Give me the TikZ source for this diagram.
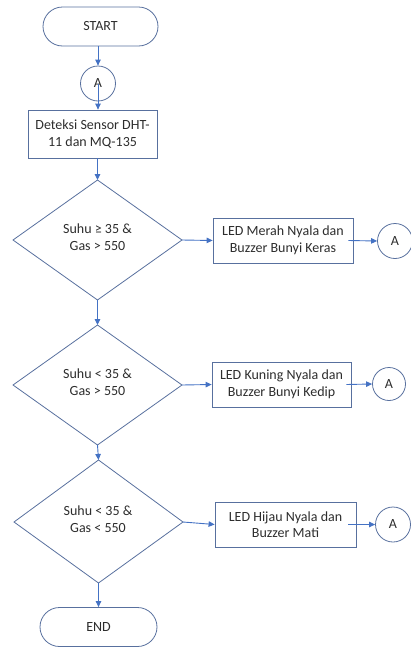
\documentclass[tikz,border=0pt]{standalone}
\usepackage{fontspec}
\setmainfont{Carlito}
\usetikzlibrary{arrows.meta,shapes.geometric}
\definecolor{shapecol}{RGB}{88,112,158}
\definecolor{arrcol}{RGB}{68,114,196}
\definecolor{txtcol}{RGB}{45,45,45}
\begin{document}
\begin{tikzpicture}[x=1pt,y=-1pt,
  every node/.style={font=\fontsize{14}{16.5}\selectfont, text=txtcol, align=center, inner sep=0pt},
  term/.style={draw=shapecol, line width=0.8pt, rounded corners=19.5pt, minimum width=115pt, minimum height=39pt},
  procbox/.style={draw=shapecol, line width=0.8pt, minimum width=140pt, minimum height=45pt},
  conn/.style={draw=shapecol, line width=0.8pt, circle, minimum size=35pt},
  decide/.style={draw=shapecol, line width=0.8pt},
  arr/.style={draw=arrcol, line width=0.9pt, -{Triangle[length=6pt,width=5.5pt]}}
]
\useasboundingbox (0,0) rectangle (411,648);

\node[term] (start) at (100.5,26.5) {START};
\node[conn] (a0) at (98,83.5) {A};
\node[procbox, minimum width=129pt, minimum height=48pt] (det) at (92.5,134) {Deteksi Sensor DHT-\\11 dan MQ-135};

% decision 1
\path (97.5,180) coordinate (d1t) (182,240) coordinate (d1r) (97.5,300) coordinate (d1b) (13,240) coordinate (d1l);
\draw[decide] (d1t) -- (d1r) -- (d1b) -- (d1l) -- cycle;
\node (d1) at (97.5,237) {Suhu ≥ 35 \&\\Gas > 550};
\node[procbox] (b1) at (283,240.5) {LED Merah Nyala dan\\Buzzer Bunyi Keras};
\node[conn] (a1) at (395,241) {A};

% decision 2
\path (97.5,325) coordinate (d2t) (182,385) coordinate (d2r) (97.5,445) coordinate (d2b) (13,385) coordinate (d2l);
\draw[decide] (d2t) -- (d2r) -- (d2b) -- (d2l) -- cycle;
\node (d2) at (97.5,382) {Suhu < 35 \&\\Gas > 550};
\node[procbox, minimum width=139pt] (b2) at (281.5,384.5) {LED Kuning Nyala dan\\Buzzer Bunyi Kedip};
\node[conn, minimum size=33pt] (a2) at (389,384) {A};

% decision 3
\path (98.5,460) coordinate (d3t) (183,522) coordinate (d3r) (98.5,583) coordinate (d3b) (14,522) coordinate (d3l);
\draw[decide] (d3t) -- (d3r) -- (d3b) -- (d3l) -- cycle;
\node (d3) at (98,519) {Suhu < 35 \&\\Gas < 550};
\node[procbox, minimum width=141pt] (b3) at (285.5,524.5) {LED Hijau Nyala dan\\Buzzer Mati};
\node[conn] (a3) at (393,524.5) {A};

\node[term, minimum width=117pt] (end) at (98.5,627) {END};

% connectors
\draw[arr] (start.south -| a0) -- (a0.north);
\draw[arr] (a0.center) -- (det.north -| a0);
\draw[arr] (det.south -| d1t) -- (d1t);
\draw[arr] (d1r) -- (b1.west);
\draw[arr] ([xshift=-5pt]b1.east) -- (a1.west);
\draw[arr] (d1b) -- (d2t);
\draw[arr] (d2r) -- (b2.west);
\draw[arr] ([xshift=-5pt]b2.east) -- (a2.west);
\draw[arr] (d2b) -- (d3t);
\draw[arr] (d3r) -- (b3.west);
\draw[arr] ([xshift=-8pt]b3.east) -- (a3.west);
\draw[arr] (d3b) -- (end.north);
\end{tikzpicture}
\end{document}
